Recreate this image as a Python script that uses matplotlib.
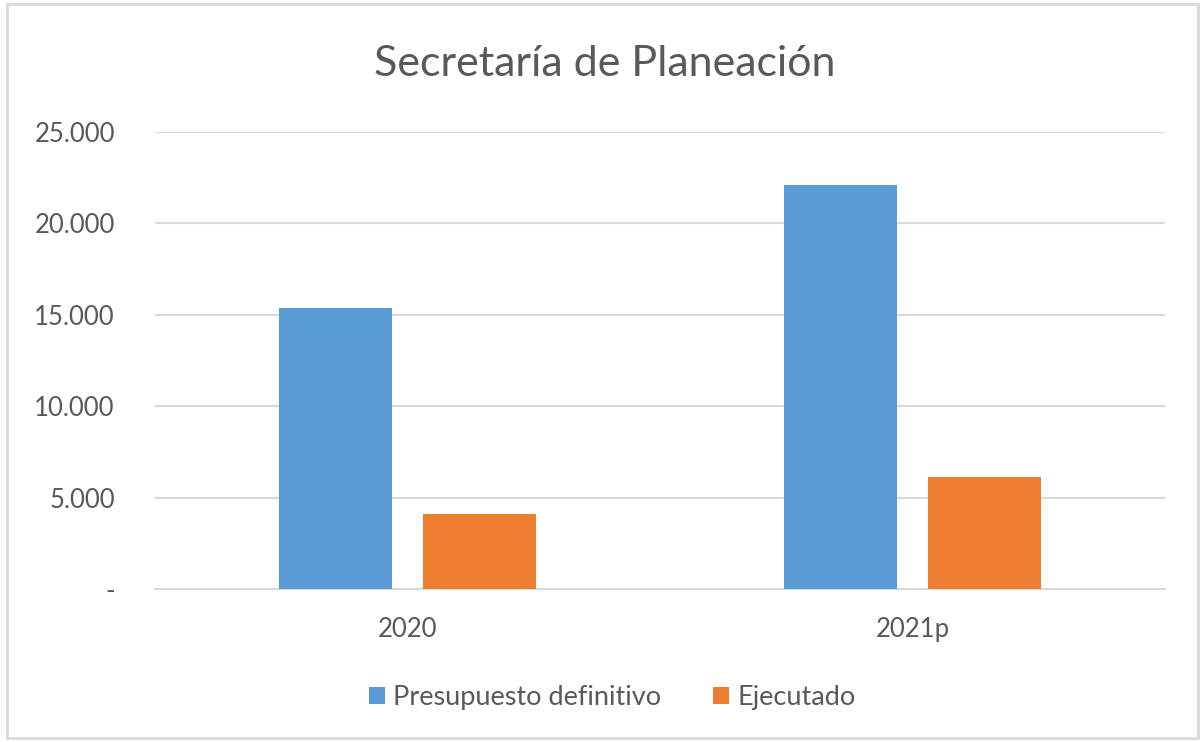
import matplotlib.pyplot as plt
from matplotlib.ticker import FuncFormatter
import numpy as np

categories = ['2020', '2021p']
presupuesto = [15350, 22100]
ejecutado = [4080, 6130]
series_names = ['Presupuesto definitivo', 'Ejecutado']
y_ticks = [0, 5000, 10000, 15000, 20000, 25000]

BLUE = '#5B9BD5'
ORANGE = '#ED7D31'
TEXT = '#595959'
GRID = '#D9D9D9'

plt.rcParams['font.family'] = ['Lato', 'DejaVu Sans']

def miles(v, pos):
    if v == 0:
        return '-'
    return f'{int(v):,}'.replace(',', '.')

fig = plt.figure(figsize=(12, 7.42), dpi=100)
ax = fig.add_axes([0.1292, 0.2062, 0.8416, 0.6159])

x = np.arange(len(categories))
w = 0.224
off = 0.143
b1 = ax.bar(x - off, presupuesto, w, color=BLUE, label=series_names[0], zorder=3)
b2 = ax.bar(x + off, ejecutado, w, color=ORANGE, label=series_names[1], zorder=3)

ax.set_xlim(-0.5, 1.5)
ax.set_ylim(0, 25000)
ax.set_yticks(y_ticks)
ax.yaxis.set_major_formatter(FuncFormatter(miles))
ax.set_xticks(x)
ax.set_xticklabels(categories)
ax.tick_params(axis='both', length=0, labelsize=18.5, colors=TEXT)
ax.tick_params(axis='y', pad=29)
ax.tick_params(axis='x', pad=20)
for lab in ax.get_yticklabels():
    lab.set_horizontalalignment('right')
ax.grid(axis='y', color=GRID, linewidth=1.5, zorder=0)
for s in ['top', 'right', 'left']:
    ax.spines[s].set_visible(False)
ax.spines['bottom'].set_color(GRID)
ax.spines['bottom'].set_linewidth(1.5)

fig.text(0.504, 0.914, 'Secretaría de Planeación', ha='center', va='center',
         fontsize=31, color=TEXT)

fig.legend(handles=[b1, b2], labels=series_names, loc='center',
           bbox_to_anchor=(0.51, 0.06), ncol=2, frameon=False, fontsize=19.5,
           handlelength=0.6, handleheight=0.6, handletextpad=0.3,
           columnspacing=1.9, labelcolor=TEXT)

# marco del grafico
frame = plt.Rectangle((0.006, 0.006), 0.992, 0.988, transform=fig.transFigure,
                      fill=False, edgecolor='#D9D9D9', linewidth=2)
fig.add_artist(frame)

fig.savefig('out.png', dpi=100)
